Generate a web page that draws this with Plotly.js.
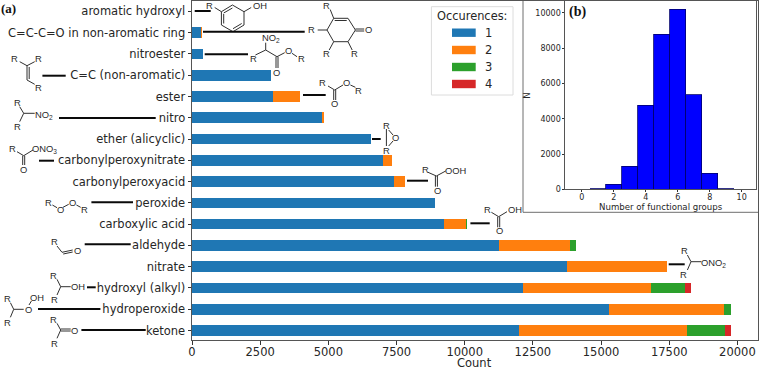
<!DOCTYPE html>
<html><head><meta charset="utf-8">
<script src="https://cdn.plot.ly/plotly-3.0.1.min.js"></script>
<style>html,body{margin:0;padding:0;background:#fff}#c{width:760px;height:370px}</style>
</head><body><div id="c"></div>
<script>
// ---------- data (bottom to top of the chart) ----------
const categories = ["ketone","hydroperoxide","hydroxyl (alkyl)","nitrate","aldehyde","carboxylic acid","peroxide","carbonylperoxyacid","carbonylperoxynitrate","ether (alicyclic)","nitro","ester","C=C (non-aromatic)","nitroester","C=C-C=O in non-aromatic ring","aromatic hydroxyl"];
const once   = [12000,15300,12130,13750,11260,9240,8910,7400,7000,6553,4780,2970,2900,400,330,15];
const twice  = [6140,4200,4690,3650,2590,820,0,400,330,0,60,990,0,0,50,0];
const thrice = [1420,250,1270,0,220,40,0,0,0,0,0,0,0,0,0,0];
const four   = [220,0,190,0,0,0,0,0,0,0,0,0,0,0,0,0];
const occurrenceNames = ["1","2","3","4"];
const occurrenceColors = ["#1f77b4","#ff7f0e","#2ca02c","#d62728"];
const groupCounts = [0,1,2,3,4,5,6,7,8,9,10];
const groupN = [5,40,280,1320,4760,8800,10200,5350,920,30,0];
const countTicks = [0,2500,5000,7500,10000,12500,15000,17500,20000];
const nTicks = [0,2000,4000,6000,8000,10000];
const groupTicks = [0,2,4,6,8,10];

// ---------- page geometry ----------
const W=760,H=370,L=192.3,R=758.3,T=1,B=340;
const px=x=>(x-L)/(R-L), py=y=>(B-y)/(B-T);
const shapes=[],annotations=[];
function seg(x1,y1,x2,y2,w,c){shapes.push({type:'line',xref:'paper',yref:'paper',x0:px(x1),y0:py(y1),x1:px(x2),y1:py(y2),line:{color:c||'#303030',width:w||1}});}
function conn(x1,x2,y){seg(x1,y,x2,y,2,'#0a0a0a');}
function txt(x,y,t,s,opt){annotations.push(Object.assign({xref:'paper',yref:'paper',x:px(x),y:py(y),text:t,showarrow:false,xanchor:'center',yanchor:'middle',borderpad:0,font:{family:'"Liberation Sans",Arial,sans-serif',size:s||9.4,color:'#2a2a2a'}},opt||{}));}
function poly(a,w){for(let i=0;i+3<a.length;i+=2)seg(a[i],a[i+1],a[i+2],a[i+3],w);}

// aromatic hydroxyl
conn(195,211,11);txt(210,5,'R');txt(260,5,'OH');
poly([221.7,11.7,232.7,5,244.3,11.7,244.3,25,233.3,31.7,221.7,25,221.7,11.7]);
seg(215,7.5,221.7,11.7);seg(244.3,11.7,251.5,7.5);
seg(224,13,232.7,8);seg(242,23.5,233.3,28.7);seg(224,14,224,23.5);
// C=C-C=O
conn(203.3,305,31.7);txt(312,30,'R');txt(369,30,'O');txt(326.7,5,'R');txt(326.7,54,'R');txt(355,54,'R');
seg(318,30,327.3,30);
poly([327.3,30,334,18.3,348.3,18.3,355.7,30,348.3,41.7,334,41.7,327.3,30]);
seg(335,20.5,347,20.5);seg(355.7,29,364.5,29);seg(355.7,31,364.5,31);
seg(330.5,9.5,334,18.3);seg(334,41.7,329.5,50);seg(348.3,41.7,352.5,50);
// nitroester
conn(205,248.3,54.3);txt(253.3,58.3,'R');txt(271,38.3,'NO<sub>2</sub>');txt(289,51,'O');txt(301.7,59,'R');txt(276.7,72.7,'O');
poly([255.7,55,266,50,277.3,56.7,285,52.7]);seg(266,50,266,42.7);
seg(276.3,56.7,276.3,68);seg(278.3,56.7,278.3,68);seg(292.3,53.3,297.3,56.7);
// C=C
conn(42.7,66,75.7);txt(15,59,'R');txt(39,59,'R');txt(39,87.3,'R');
poly([20,61.7,27.3,65.7,35,61.7]);seg(27.3,65.7,27.3,80);seg(29.5,67,29.5,79);seg(27.3,80,35,84.3);
// nitro
conn(59.3,156,118);txt(17.3,102.3,'R');txt(17.3,126.7,'R');txt(44,115,'NO<sub>2</sub>');
poly([20,106.7,24,113.3,20,121.7]);seg(24,113.3,35,113.3);
// carbonylperoxynitrate
conn(39.3,54.3,160.7);txt(12.7,148.3,'R');txt(24,169,'O');txt(45,149,'ONO<sub>3</sub>');
poly([17.3,151.7,24,155.7,33.3,150]);seg(23,155.7,23,165);seg(25,155.7,25,165);
// peroxide
conn(91.7,133.3,202.3);txt(48.3,202.7,'R');txt(60.3,210,'O');txt(72.7,202.7,'O');txt(84.7,210,'R');
seg(52.7,205,57.3,207.7);seg(63.3,207.3,69,204.3);seg(76.7,205,81,207.3);
// aldehyde
conn(85,131,244.3);txt(55,241.7,'R');txt(77.7,250.7,'O');
seg(57.3,246,62.3,252.3);seg(62.3,252.3,73,250);seg(63.5,254,73,252);
// hydroxyl
conn(87.3,96,287.3);txt(54,275,'R');txt(55,299.3,'R');txt(78.3,286.7,'OH');
poly([57.3,279.3,61,286.7,57.3,295]);seg(61,286.7,71,286.7);
// hydroperoxide
conn(38.3,100.7,309);txt(7.3,298.3,'R');txt(7.3,322.3,'R');txt(28.3,309.3,'O');txt(37.7,297.3,'OH');
poly([10.7,302.7,14,309.3,10.7,317.3]);seg(14,309.3,24,309.3);seg(29.3,305,31.7,301);
// ketone
conn(81.7,146,330);txt(54,319,'R');txt(55,343.3,'R');txt(75,330,'O');
poly([57.3,323.3,61,330,57.3,338.3]);seg(61,329,71,329);seg(61,331,71,331);
// ester
conn(303.3,326,95);txt(322.7,82.7,'R');txt(335,104,'O');txt(346.7,82.7,'O');txt(359,90,'R');
poly([328.3,86,335,90,343.3,85]);seg(334,90,334,100);seg(336,90,336,100);seg(350.7,85,355.7,87.3);
// ether
conn(372.3,381,139);txt(386.7,125,'R');txt(386.7,150,'R');txt(396,137.7,'O');
seg(386.7,129,386.7,146);seg(389,130,393.3,135);seg(393.3,141,389,146);
// carbonylperoxyacid
conn(407.3,428.3,180.7);txt(425.3,169.3,'R');txt(437.3,190.7,'O');txt(456,170,'OOH');
poly([428.3,172.3,436.7,176,446,171]);seg(435.7,176,435.7,186.7);seg(437.7,176,437.7,186.7);
// carboxylic acid
conn(470.7,490,223.3);txt(487.3,209.3,'R');txt(499.3,230.7,'O');txt(515,209.3,'OH');
poly([491.7,212.3,499,216.7,507.3,211.7]);seg(498,216.7,498,227.3);seg(500,216.7,500,227.3);
// nitrate
conn(669,685,264.3);txt(685,250,'R');txt(684.3,274.3,'R');txt(714,262.7,'ONO<sub>2</sub>');
poly([687.7,255,691.3,261.7,687.7,270]);seg(691.3,261.7,701.7,261.7);

// inset frame
seg(523.3,1,523.3,212.3,1,'#6e6e6e');seg(523.3,212.3,758.3,212.3,1,'#6e6e6e');

// panel letters
const serif='"Liberation Serif","Times New Roman",serif';
txt(8.5,8.5,'<b>(a)</b>',13,{font:{family:serif,size:13,color:'#111'}});
txt(578,12,'<b>(b)</b>',14,{font:{family:serif,size:14,color:'#111'}});

// axis titles, placed exactly
const dj='"DejaVu Sans",sans-serif';
txt(475,362.6,'Count',11.5,{font:{family:dj,size:11.5,color:'#262626'}});
txt(661.7,207.3,'Number of functional groups',8.6,{font:{family:dj,size:8.6,color:'#262626'}});
txt(527,96,'N',8.6,{textangle:-90,font:{family:dj,size:8.6,color:'#262626'}});

// legend
shapes.push({type:'rect',xref:'paper',yref:'paper',x0:px(431.7),x1:px(513.3),y0:py(6.7),y1:py(95),line:{color:'#dcdcdc',width:1},fillcolor:'rgba(255,255,255,0.8)'});
txt(472.5,16,'Occurences:',11.4,{font:{family:dj,size:11.4,color:'#262626'}});
[32.7,50,67,84].forEach((y,i)=>{
  shapes.push({type:'rect',xref:'paper',yref:'paper',x0:px(452.3),x1:px(476),y0:py(y-4.2),y1:py(y+4.2),line:{width:0},fillcolor:occurrenceColors[i]});
  txt(489,y,occurrenceNames[i],11.5,{font:{family:dj,size:11.5,color:'#262626'}});
});

const series=[once,twice,thrice,four];
const traces=series.map((v,i)=>({type:'bar',orientation:'h',y:categories.map((_,k)=>k),x:v,name:occurrenceNames[i],width:0.5,marker:{color:occurrenceColors[i],line:{width:0}},xaxis:'x',yaxis:'y',showlegend:false,hoverinfo:'x+name'}));
traces.push({type:'bar',x:groupCounts,y:groupN,width:1,marker:{color:'#0000ff',line:{color:'#00006e',width:0.8}},xaxis:'x2',yaxis:'y2',showlegend:false});

const axisLine='#555555',tickc='#333333';
Plotly.newPlot('c',traces,{
  width:W,height:H,paper_bgcolor:'#fff',plot_bgcolor:'#fff',barmode:'stack',showlegend:false,
  margin:{l:L,r:W-R,t:T,b:H-B,pad:0},
  font:{family:dj,color:'#262626'},
  xaxis:{domain:[0,1],range:[0,20755],tickvals:countTicks,ticktext:countTicks.map(String),tickfont:{size:11.5},ticks:'outside',ticklen:3.5,ticklabelstandoff:-2,tickcolor:tickc,showgrid:false,zeroline:false,showline:true,linecolor:axisLine,linewidth:1,mirror:true,anchor:'y'},
  yaxis:{domain:[0,1],range:[-0.447,15.49],tickvals:categories.map((_,k)=>k),ticktext:categories,tickfont:{size:11.5},ticks:'outside',ticklen:3.5,tickcolor:tickc,showgrid:false,zeroline:false,showline:true,linecolor:axisLine,linewidth:1,mirror:true,anchor:'x',automargin:false},
  xaxis2:{domain:[px(565.7),px(756.7)],range:[-1.02,10.92],tickvals:groupTicks,ticktext:groupTicks.map(String),tickfont:{size:8},ticks:'outside',ticklen:2,ticklabelstandoff:-2,tickcolor:tickc,showgrid:false,zeroline:false,showline:true,linecolor:axisLine,linewidth:1,mirror:true,anchor:'y2'},
  yaxis2:{domain:[py(189.3),1],range:[0,10680],tickvals:nTicks,ticktext:nTicks.map(String),tickfont:{size:8},ticks:'outside',ticklen:2,tickcolor:tickc,showgrid:false,zeroline:false,showline:true,linecolor:axisLine,linewidth:1,mirror:true,anchor:'x2'},
  shapes:shapes,annotations:annotations
},{displayModeBar:false,staticPlot:true});
</script></body></html>
